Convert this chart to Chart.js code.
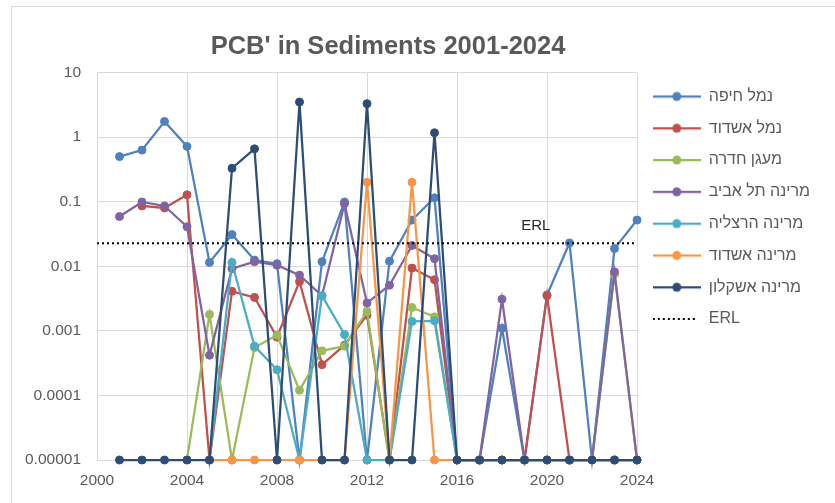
<!DOCTYPE html>
<html lang="en">
<head>
    <meta charset="UTF-8">
    <title>PCB' in Sediments 2001-2024</title>
    <script src="https://cdn.jsdelivr.net/npm/chart.js"></script>
    <style>
        html, body { margin: 0; padding: 0; background: #fff; }
        .chart-box { position: relative; width: 835px; height: 503px; }
    </style>
</head>
<body>
    <div class="chart-box"><canvas id="pcbChart"></canvas></div>

    <script>
        // Sampling years and values (mg/kg); ND = not detected, shown on the axis floor
        const years = [2001, 2002, 2003, 2004, 2005, 2006, 2007, 2008, 2009, 2010, 2011, 2012,
                       2013, 2014, 2015, 2016, 2017, 2018, 2019, 2020, 2021, 2022, 2023, 2024];
        const ND = 0.00001;

        const haifaPort    = [0.5, 0.63, 1.75, 0.72, 0.0115, 0.031, 0.0125, 0.011, ND, 0.0118, 0.099, ND,
                              0.012, 0.052, 0.115, ND, ND, 0.0011, ND, 0.0036, 0.023, ND, 0.0188, 0.052];
        const ashdodPort   = [null, 0.086, 0.08, 0.128, ND, 0.0041, 0.0033, 0.0008, 0.0058, 0.0003, 0.0006, 0.00175,
                              ND, 0.0094, 0.0062, ND, ND, ND, ND, 0.0035, ND, ND, ND, ND];
        const haderaBasin  = [null, null, null, ND, 0.0018, ND, 0.00055, 0.00086, 0.00012, 0.00049, 0.00058, 0.002,
                              ND, 0.0023, 0.00165, ND, ND, ND, ND, ND, ND, ND, 0.0076, ND];
        const telAviv      = [0.059, 0.099, 0.086, 0.041, 0.00042, 0.0092, 0.0118, 0.0104, 0.0073, 0.0035, 0.093, 0.0027,
                              0.0051, 0.021, 0.0131, ND, ND, 0.0031, ND, ND, ND, ND, 0.0082, ND];
        const herzliya     = [null, null, null, null, ND, 0.0115, 0.00058, 0.00025, ND, 0.0035, 0.00088, ND,
                              ND, 0.0014, 0.00143, ND, ND, ND, ND, ND, ND, ND, ND, ND];
        const ashdodMarina = [null, null, null, null, ND, ND, ND, ND, ND, ND, ND, 0.2,
                              ND, 0.2, ND, ND, ND, ND, ND, ND, ND, ND, ND, ND];
        const ashkelon     = [ND, ND, ND, ND, ND, 0.33, 0.66, ND, 3.5, ND, ND, 3.3,
                              ND, ND, 1.17, ND, ND, ND, ND, ND, ND, ND, ND, ND];

        const erlValue = 0.0227;
        const erlSpan = [2000, 2024];
        const erlLabelYear = 2019.5;

        const xTicks = [2000, 2004, 2008, 2012, 2016, 2020, 2024];
        const yTicks = [0.00001, 0.0001, 0.001, 0.01, 0.1, 1, 10];
        const yTickLabels = ['0.00001', '0.0001', '0.001', '0.01', '0.1', '1', '10'];

        const seriesNames = ['נמל חיפה', 'נמל אשדוד', 'מעגן חדרה', 'מרינה תל אביב', 'מרינה הרצליה', 'מרינה אשדוד', 'מרינה אשקלון'];
        const seriesColors = ['#4F81BD', '#C0504D', '#9BBB59', '#8064A2', '#4BACC6', '#F79646', '#2C4D75'];
        const seriesValues = [haifaPort, ashdodPort, haderaBasin, telAviv, herzliya, ashdodMarina, ashkelon];

        const FONT = '"Liberation Sans", Arial, sans-serif';
        const GREY = '#595959';

        // the excel title is not centred on the visible part, so the box is pushed a bit left
        const PAD_LEFT = -41;
        const PAD_RIGHT = 18;
        const PLOT_LEFT = 97;

        // little line+dot swatches for the legend, Excel style
        function legendMarker(color, dotted) {
            const c = document.createElement('canvas');
            c.width = 48;
            c.height = 12;
            const g = c.getContext('2d');
            g.strokeStyle = color;
            g.lineWidth = dotted ? 2 : 2.25;
            if (dotted) g.setLineDash([2, 3]);
            g.beginPath();
            g.moveTo(0, 6);
            g.lineTo(dotted ? 44 : 48, 6);
            g.stroke();
            if (!dotted) {
                g.fillStyle = color;
                g.beginPath();
                g.arc(24, 6, 4.5, 0, Math.PI * 2);
                g.fill();
            }
            return c;
        }
        const markers = seriesColors.map(c => legendMarker(c, false));
        markers.push(legendMarker('#000', true));

        const datasets = seriesValues.map((values, i) => ({
            label: seriesNames[i],
            data: values,
            borderColor: seriesColors[i],
            backgroundColor: seriesColors[i],
            pointBackgroundColor: seriesColors[i],
            pointBorderColor: seriesColors[i],
            borderWidth: 2.25,
            pointRadius: 4,
            pointBorderWidth: 1,
            tension: 0,
            clip: false,
            order: seriesValues.length - i   // later series drawn on top, like the original
        }));
        datasets.push({
            label: 'ERL',
            data: erlSpan.map(x => ({ x: x, y: erlValue })),
            borderColor: '#000',
            backgroundColor: '#000',
            borderWidth: 2,
            borderDash: [2, 3],
            pointRadius: 0,
            order: 0
        });

        // outer frame + "ERL" caption above the dotted line
        const extras = {
            id: 'extras',
            beforeDraw(chart) {
                const ctx = chart.ctx;
                ctx.save();
                ctx.strokeStyle = '#d9d9d9';
                ctx.lineWidth = 1;
                ctx.strokeRect(11.5, 6.5, chart.width, chart.height);
                ctx.restore();
            },
            afterDatasetsDraw(chart) {
                const { ctx, scales: { x, y } } = chart;
                ctx.save();
                ctx.font = '15px ' + FONT;
                ctx.fillStyle = '#262626';
                ctx.textAlign = 'center';
                ctx.textBaseline = 'alphabetic';
                ctx.fillText('ERL', x.getPixelForValue(erlLabelYear), y.getPixelForValue(erlValue) - 13);
                ctx.restore();
            }
        };

        new Chart(document.getElementById('pcbChart'), {
            type: 'line',
            data: { labels: years, datasets: datasets },
            plugins: [extras],
            options: {
                responsive: true,
                maintainAspectRatio: false,
                animation: false,
                layout: { padding: { left: PAD_LEFT, right: PAD_RIGHT, top: 0, bottom: 0 } },
                plugins: {
                    title: {
                        display: true,
                        text: "PCB' in Sediments 2001-2024",
                        color: GREY,
                        font: { family: FONT, size: 25.5, weight: 'bold' },
                        padding: { top: 32, bottom: 10 }
                    },
                    legend: {
                        position: 'right',
                        align: 'start',
                        fullSize: false,
                        maxWidth: 180,
                        labels: {
                            usePointStyle: true,
                            pointStyleWidth: 48,
                            color: GREY,
                            font: { family: FONT, size: 16 },
                            padding: 15.8,
                            sort: (a, b) => a.datasetIndex - b.datasetIndex,
                            generateLabels(chart) {
                                const items = Chart.defaults.plugins.legend.labels.generateLabels(chart);
                                items.forEach(it => { it.pointStyle = markers[it.datasetIndex]; });
                                return items;
                            }
                        }
                    },
                    tooltip: { enabled: false }
                },
                scales: {
                    x: {
                        type: 'linear',
                        min: 2000,
                        max: 2024,
                        afterBuildTicks: s => { s.ticks = xTicks.map(v => ({ value: v })); },
                        afterFit: s => { s.height = 43; },
                        grid: { color: '#d9d9d9', drawTicks: false },
                        border: { color: '#d9d9d9' },
                        ticks: {
                            padding: 11,
                            color: GREY,
                            font: { family: FONT, size: 15.5 },
                            maxRotation: 0,
                            autoSkip: false,
                            callback: v => String(v)
                        }
                    },
                    y: {
                        type: 'logarithmic',
                        min: 0.00001,
                        max: 10,
                        afterBuildTicks: s => { s.ticks = yTicks.map(v => ({ value: v })); },
                        afterFit: s => { s.width = PLOT_LEFT - PAD_LEFT; },
                        grid: { color: '#d9d9d9', drawTicks: false },
                        border: { color: '#d9d9d9' },
                        ticks: {
                            padding: 16,
                            color: GREY,
                            font: { family: FONT, size: 15.5 },
                            autoSkip: false,
                            callback: v => yTickLabels[yTicks.indexOf(v)]
                        }
                    }
                }
            }
        });
    </script>
</body>
</html>
